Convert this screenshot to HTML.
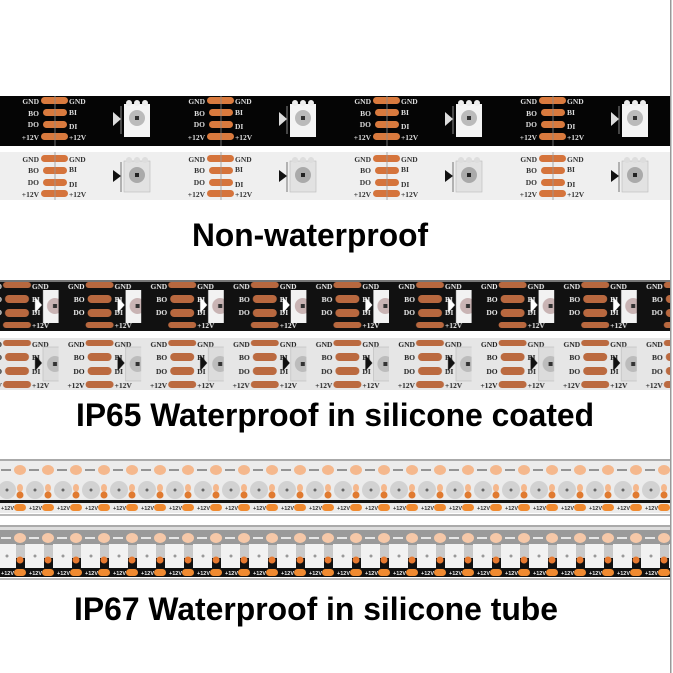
<!DOCTYPE html>
<html><head><meta charset="utf-8"><style>
html,body{margin:0;padding:0;background:#fff;width:673px;height:673px;overflow:hidden}
svg{display:block}
.t{font-family:"Liberation Sans",Arial,sans-serif;font-weight:bold;fill:#000}
.s{font-family:"Liberation Serif",serif;font-weight:bold;font-size:7.5px}
.m{font-family:"Liberation Sans",sans-serif;font-size:5.5px;font-weight:bold}
</style></head><body>
<svg width="673" height="673" viewBox="0 0 673 673" xmlns="http://www.w3.org/2000/svg">
<defs>
<pattern id="p1" x="0" y="96" width="166" height="50" patternUnits="userSpaceOnUse">
  <rect width="166" height="50" fill="#050505"/>
  <g fill="#d97a3e">
    <rect x="41" y="1" width="27" height="7" rx="3.5"/>
    <rect x="43" y="13" width="24" height="7" rx="3.5"/>
    <rect x="43" y="25" width="24" height="7" rx="3.5"/>
    <rect x="41" y="37" width="27" height="7" rx="3.5"/>
  </g>
  <line x1="55" y1="0" x2="55" y2="50" stroke="#888" stroke-width="0.8"/>
  <g class="s" fill="#ddd">
    <text x="39" y="8" text-anchor="end">GND</text>
    <text x="39" y="20" text-anchor="end">BO</text>
    <text x="39" y="31" text-anchor="end">DO</text>
    <text x="39" y="44" text-anchor="end">+12V</text>
    <text x="69" y="8">GND</text>
    <text x="69" y="19">BI</text>
    <text x="69" y="33">DI</text>
    <text x="69" y="44">+12V</text>
  </g>
  <rect x="124" y="8" width="26" height="33" fill="#f4f4f4"/>
  <circle cx="129" cy="7" r="3" fill="#eee"/><circle cx="137" cy="7" r="3" fill="#eee"/><circle cx="145" cy="7" r="3" fill="#eee"/>
  <circle cx="137" cy="22" r="8" fill="#bbb"/><rect x="135" y="20" width="4" height="4" fill="#333"/>
  <polygon points="113,16 121,23 113,30" fill="#ddd"/>
  <line x1="121" y1="10" x2="121" y2="38" stroke="#aaa" stroke-width="0.8"/>
</pattern>
<pattern id="p2" x="0" y="152" width="166" height="48" patternUnits="userSpaceOnUse">
  <rect width="166" height="48" fill="#efefef"/>
  <g fill="#d5743c">
    <rect x="41" y="3" width="27" height="7" rx="3.5"/>
    <rect x="43" y="15" width="24" height="7" rx="3.5"/>
    <rect x="43" y="27" width="24" height="7" rx="3.5"/>
    <rect x="41" y="38" width="27" height="7" rx="3.5"/>
  </g>
  <line x1="55" y1="0" x2="55" y2="48" stroke="#999" stroke-width="0.8"/>
  <g class="s" fill="#333">
    <text x="39" y="10" text-anchor="end">GND</text>
    <text x="39" y="21" text-anchor="end">BO</text>
    <text x="39" y="33" text-anchor="end">DO</text>
    <text x="39" y="45" text-anchor="end">+12V</text>
    <text x="69" y="10">GND</text>
    <text x="69" y="20">BI</text>
    <text x="69" y="35">DI</text>
    <text x="69" y="45">+12V</text>
  </g>
  <rect x="124" y="9" width="26" height="31" fill="#e2e2e2" stroke="#bbb" stroke-width="0.6"/>
  <circle cx="129" cy="8" r="3" fill="#ddd"/><circle cx="137" cy="8" r="3" fill="#ddd"/><circle cx="145" cy="8" r="3" fill="#ddd"/>
  <circle cx="137" cy="23" r="8" fill="#aaa"/><rect x="135" y="21" width="4" height="4" fill="#222"/>
  <polygon points="113,18 121,24 113,30" fill="#111"/>
  <line x1="121" y1="10" x2="121" y2="40" stroke="#555" stroke-width="0.8"/>
</pattern>
<pattern id="p3" x="-24" y="280" width="82.6" height="51" patternUnits="userSpaceOnUse">
  <rect width="82.6" height="51" fill="#111"/>
  <rect width="82.6" height="2" fill="#777"/>
  <g fill="#b8683f">
    <rect x="27" y="2" width="28" height="6" rx="3"/>
    <rect x="29" y="15" width="24" height="8" rx="4"/>
    <rect x="29" y="29" width="24" height="8" rx="4"/>
    <rect x="27" y="42" width="28" height="6" rx="3"/>
  </g>
  <g class="s" fill="#eee">
    <text x="56" y="9">GND</text>
    <text x="56" y="22">BI</text>
    <text x="56" y="35">DI</text>
    <text x="56" y="48">+12V</text>
    <text x="26" y="22" text-anchor="end">BO</text>
    <text x="26" y="35" text-anchor="end">DO</text>
    <text x="26" y="9" text-anchor="end">GND</text>
  </g>
  <rect x="67" y="10" width="25" height="33" fill="#f2f2f2"/>
  <polygon points="59,17 66,25 59,33" fill="#fff"/>
  <circle cx="79" cy="26" r="8" fill="#c9b4b4"/><rect x="77" y="24" width="4" height="4" fill="#333"/>
</pattern>
<pattern id="p4" x="-24" y="338" width="82.6" height="52" patternUnits="userSpaceOnUse">
  <rect width="82.6" height="52" fill="#e6e6e6"/>
  <g fill="#bb6a40">
    <rect x="27" y="2" width="28" height="6" rx="3"/>
    <rect x="29" y="15" width="24" height="8" rx="4"/>
    <rect x="29" y="29" width="24" height="8" rx="4"/>
    <rect x="27" y="43" width="28" height="7" rx="3.5"/>
  </g>
  <g class="s" fill="#222">
    <text x="56" y="9">GND</text>
    <text x="56" y="22">BI</text>
    <text x="56" y="36">DI</text>
    <text x="56" y="50">+12V</text>
    <text x="26" y="22" text-anchor="end">BO</text>
    <text x="26" y="36" text-anchor="end">DO</text>
    <text x="26" y="9" text-anchor="end">GND</text>
    <text x="26" y="50" text-anchor="end">+12V</text>
  </g>
  <rect x="67" y="9" width="25" height="34" fill="#dcdcdc" stroke="#bbb" stroke-width="0.6"/>
  <polygon points="59,17 66,25 59,33" fill="#111"/>
  <circle cx="79" cy="26" r="8" fill="#bcbcbc"/><rect x="77" y="24" width="4" height="4" fill="#333"/>
</pattern>
<pattern id="p5" x="-8" y="461" width="28" height="52" patternUnits="userSpaceOnUse">
  <rect width="28" height="52" fill="#ececec"/>
  <ellipse cx="28" cy="9" rx="6" ry="5" fill="#f5b88d"/><ellipse cx="0" cy="9" rx="6" ry="5" fill="#f5b88d"/>
  <line x1="9" y1="9" x2="19" y2="9" stroke="#777" stroke-width="1.5"/>
  <circle cx="15" cy="29" r="9" fill="#d2d2d2"/><circle cx="15" cy="29" r="1.5" fill="#666"/>
  <ellipse cx="28" cy="27" rx="3" ry="4" fill="#f5b88d"/><ellipse cx="0" cy="27" rx="3" ry="4" fill="#f5b88d"/>
  <circle cx="28" cy="34" r="3.5" fill="#e07a30"/><circle cx="0" cy="34" r="3.5" fill="#e07a30"/>
  <rect x="0" y="39" width="28" height="3" fill="#111"/>
  <rect x="22" y="43" width="12" height="7" rx="3.5" fill="#f08a30"/><rect x="-6" y="43" width="12" height="7" rx="3.5" fill="#f08a30"/>
  <text x="9" y="49" class="m" fill="#333">+12V</text>
</pattern>
<pattern id="p6" x="-8" y="530" width="28" height="47" patternUnits="userSpaceOnUse">
  <rect width="28" height="47" fill="#111"/>
  <rect width="28" height="15" fill="#9a9a9a"/>
  <ellipse cx="28" cy="8" rx="6" ry="5" fill="#f6c8a8"/><ellipse cx="0" cy="8" rx="6" ry="5" fill="#f6c8a8"/>
  <line x1="9" y1="8" x2="19" y2="8" stroke="#fff" stroke-width="1.5"/>
  <rect x="5" y="14" width="19" height="24" fill="#f2f2f2"/>
  <circle cx="15" cy="26" r="1.5" fill="#999"/>
  <rect x="24" y="15" width="9" height="13" fill="#c9c9c9"/><rect x="-5" y="15" width="10" height="13" fill="#c9c9c9"/>
  <circle cx="28" cy="30" r="3.5" fill="#e87a30"/><circle cx="0" cy="30" r="3.5" fill="#e87a30"/>
  <rect x="22" y="39" width="12" height="7" rx="3.5" fill="#f08a30"/><rect x="-6" y="39" width="12" height="7" rx="3.5" fill="#f08a30"/>
  <text x="9" y="45" class="m" fill="#eee">+12V</text>
</pattern>
</defs>

<rect x="0" y="96" width="670" height="50" fill="url(#p1)"/>
<rect x="0" y="152" width="670" height="48" fill="url(#p2)"/>
<text x="192" y="246" class="t" font-size="32" textLength="236" lengthAdjust="spacingAndGlyphs">Non-waterproof</text>

<rect x="0" y="280" width="670" height="51" fill="url(#p3)"/>
<rect x="0" y="338" width="670" height="52" fill="url(#p4)"/>
<text x="76" y="426" class="t" font-size="32" textLength="518" lengthAdjust="spacingAndGlyphs">IP65 Waterproof in silicone coated</text>

<rect x="0" y="459" width="670" height="2" fill="#aaa"/>
<rect x="0" y="461" width="670" height="52" fill="url(#p5)"/>
<rect x="0" y="514" width="670" height="2" fill="#bbb"/>
<rect x="0" y="525" width="670" height="2" fill="#aaa"/>
<rect x="0" y="527" width="670" height="3" fill="#ddd"/>
<rect x="0" y="530" width="670" height="47" fill="url(#p6)"/>
<rect x="0" y="578" width="670" height="2" fill="#bbb"/>
<text x="74" y="620" class="t" font-size="32" textLength="484" lengthAdjust="spacingAndGlyphs">IP67 Waterproof in silicone tube</text>

<rect x="670" y="0" width="1.5" height="673" fill="#999"/>
</svg>
</body></html>
